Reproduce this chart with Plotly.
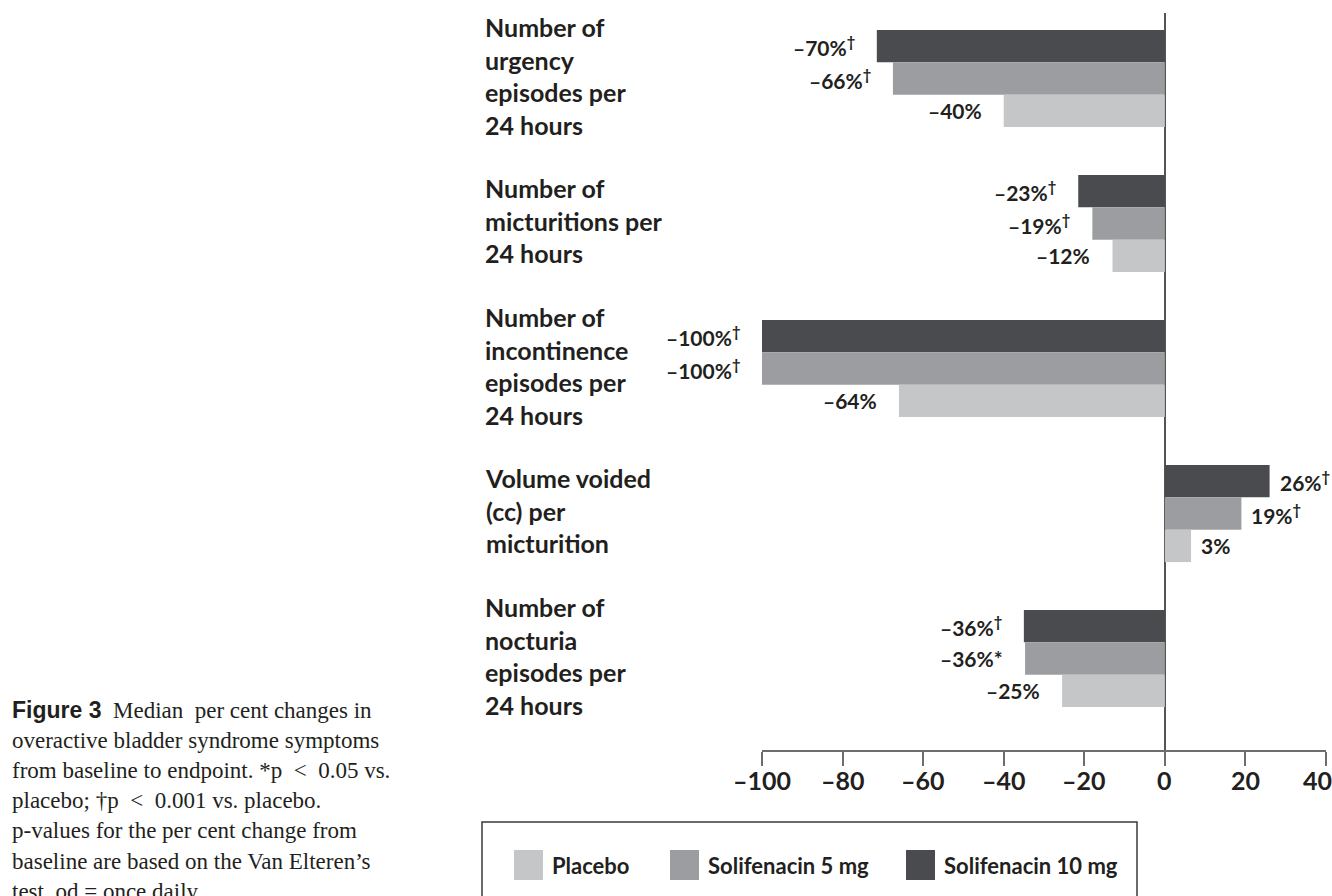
import plotly.graph_objects as go

# ---------------- data ----------------
categories = [
    "Number of<br>urgency<br>episodes per<br>24 hours",
    "Number of<br>micturitions per<br>24 hours",
    "Number of<br>incontinence<br>episodes per<br>24 hours",
    "Volume voided<br>(cc) per<br>micturition",
    "Number of<br>nocturia<br>episodes per<br>24 hours",
]
series_names = ["Solifenacin 10 mg", "Solifenacin 5 mg", "Placebo"]
sol10_values = [-71.5, -21.5, -100, 26, -35]
sol5_values = [-67.5, -18, -100, 19, -34.7]
placebo_values = [-40, -13, -66, 6.5, -25.5]
sol10_labels = ["–70%<sup>†</sup>", "–23%<sup>†</sup>", "–100%<sup>†</sup>", "26%<sup>†</sup>", "–36%<sup>†</sup>"]
sol5_labels = ["–66%<sup>†</sup>", "–19%<sup>†</sup>", "–100%<sup>†</sup>", "19%<sup>†</sup>", "–36%*"]
placebo_labels = ["–40%", "–12%", "–64%", "3%", "–25%"]
tick_values = [-100, -80, -60, -40, -20, 0, 20, 40]
tick_labels = ["–100", "–80", "–60", "–40", "–20", "0", "20", "40"]
legend_order = ["Placebo", "Solifenacin 5 mg", "Solifenacin 10 mg"]
caption_lines = [
    "<span style='font-family:Liberation Sans, Arial, sans-serif'><b>Figure 3</b></span>  Median  per cent changes in",
    "overactive bladder syndrome symptoms",
    "from baseline to endpoint. *p  &lt;  0.05 vs.",
    "placebo; †p  &lt;  0.001 vs. placebo.",
    "p-values for the per cent change from",
    "baseline are based on the Van Elteren’s",
    "test. od = once daily.",
]

# ---------------- style ----------------
colors = {"Solifenacin 10 mg": "#4a4b4e", "Solifenacin 5 mg": "#9c9da0", "Placebo": "#c5c6c8"}
BOLD_FONT = "Lato, Liberation Sans Narrow, DejaVu Sans Condensed, sans-serif"
SERIF_FONT = "Liberation Serif, DejaVu Serif, serif"
TXT = "#231f20"

W, H = 1332, 896
L, R, T, B = 762, 6, 13, 146
PW, PH = W - L - R, H - T - B
GROUP_PX = 145.0
BARGAP = 0.33


def px_x(px):
    return (px - L) / PW


def px_y(py):
    return (H - B - py) / PH


fig = go.Figure()
values = [sol10_values, sol5_values, placebo_values]
labels = [sol10_labels, sol5_labels, placebo_labels]
for name, vals in zip(series_names, values):
    fig.add_trace(go.Bar(
        y=categories, x=vals, name=name, orientation="h",
        marker=dict(color=colors[name], line=dict(width=0)),
        showlegend=False, hoverinfo="x+name",
    ))

bar_px = GROUP_PX * (1 - BARGAP) / 3
annotations = []
for i, (vals, labs) in enumerate(zip(values, labels)):
    for cat, v, lab in zip(categories, vals, labs):
        annotations.append(dict(
            x=v, y=cat, xref="x", yref="y", text="<b>" + lab + "</b>",
            showarrow=False, xanchor="right" if v < 0 else "left",
            xshift=-20 if v < 0 else 8, yshift=(1 - i) * bar_px,
            font=dict(family=BOLD_FONT, size=21, color=TXT),
        ))

for cat in categories:
    annotations.append(dict(
        x=px_x(483), y=cat, xref="paper", yref="y", text="<b>" + cat + "</b>",
        showarrow=False, xanchor="left", yanchor="middle", align="left",
        yshift=3,
        font=dict(family=BOLD_FONT, size=25, color=TXT),
    ))

# x tick labels (drawn as text under each tick, the last one nudged inside the page)
for tv, tl in zip(tick_values, tick_labels):
    annotations.append(dict(
        x=tv, y=px_y(780), xref="x", yref="paper", text="<b>" + tl + "</b>",
        showarrow=False, xanchor="center", yanchor="middle",
        xshift=-9 if tv == tick_values[-1] else 0,
        font=dict(family=BOLD_FONT, size=25, color=TXT),
    ))

# caption
for k, line in enumerate(caption_lines):
    annotations.append(dict(
        x=px_x(10), y=px_y(710 + k * 30.2), xref="paper", yref="paper", text=line,
        showarrow=False, xanchor="left", yanchor="middle", align="left",
        font=dict(family=SERIF_FONT, size=23, color=TXT),
    ))

# legend (custom box)
shapes = [dict(type="rect", xref="paper", yref="paper",
               x0=px_x(482), x1=px_x(1137), y0=px_y(930), y1=px_y(822),
               line=dict(color="#3a3a3a", width=1.5), fillcolor="rgba(0,0,0,0)")]
swatch_x = {"Placebo": 514, "Solifenacin 5 mg": 670, "Solifenacin 10 mg": 906}
for name in legend_order:
    sx = swatch_x[name]
    shapes.append(dict(type="rect", xref="paper", yref="paper",
                       x0=px_x(sx), x1=px_x(sx + 29), y0=px_y(880), y1=px_y(850),
                       line=dict(width=0), fillcolor=colors[name]))
    annotations.append(dict(
        x=px_x(sx + 36), y=px_y(865), xref="paper", yref="paper", text="<b>" + name + "</b>",
        showarrow=False, xanchor="left", yanchor="middle",
        font=dict(family=BOLD_FONT, size=22, color=TXT),
    ))

top_units = (78.5 - T) / GROUP_PX
bottom_units = (H - B - 78.5) / GROUP_PX

fig.update_layout(
    width=W, height=H,
    margin=dict(l=L, r=R, t=T, b=B, pad=0, autoexpand=False),
    paper_bgcolor="white", plot_bgcolor="white",
    barmode="group", bargap=BARGAP, bargroupgap=0,
    annotations=annotations, shapes=shapes,
    xaxis=dict(
        range=[-100, 40], tickvals=tick_values, showticklabels=False,
        showgrid=False, zeroline=True, zerolinecolor="#555555", zerolinewidth=2,
        showline=True, linecolor="#6d6d6d", linewidth=2,
        ticks="outside", ticklen=14, tickwidth=2, tickcolor="#6d6d6d",
        automargin=False, fixedrange=True,
    ),
    yaxis=dict(
        range=[bottom_units, -top_units], showticklabels=False, showgrid=False,
        zeroline=False, showline=False, ticks="", fixedrange=True,
        categoryorder="array", categoryarray=categories, automargin=False,
    ),
)

fig.write_html("out.html", config={"displayModeBar": False})
